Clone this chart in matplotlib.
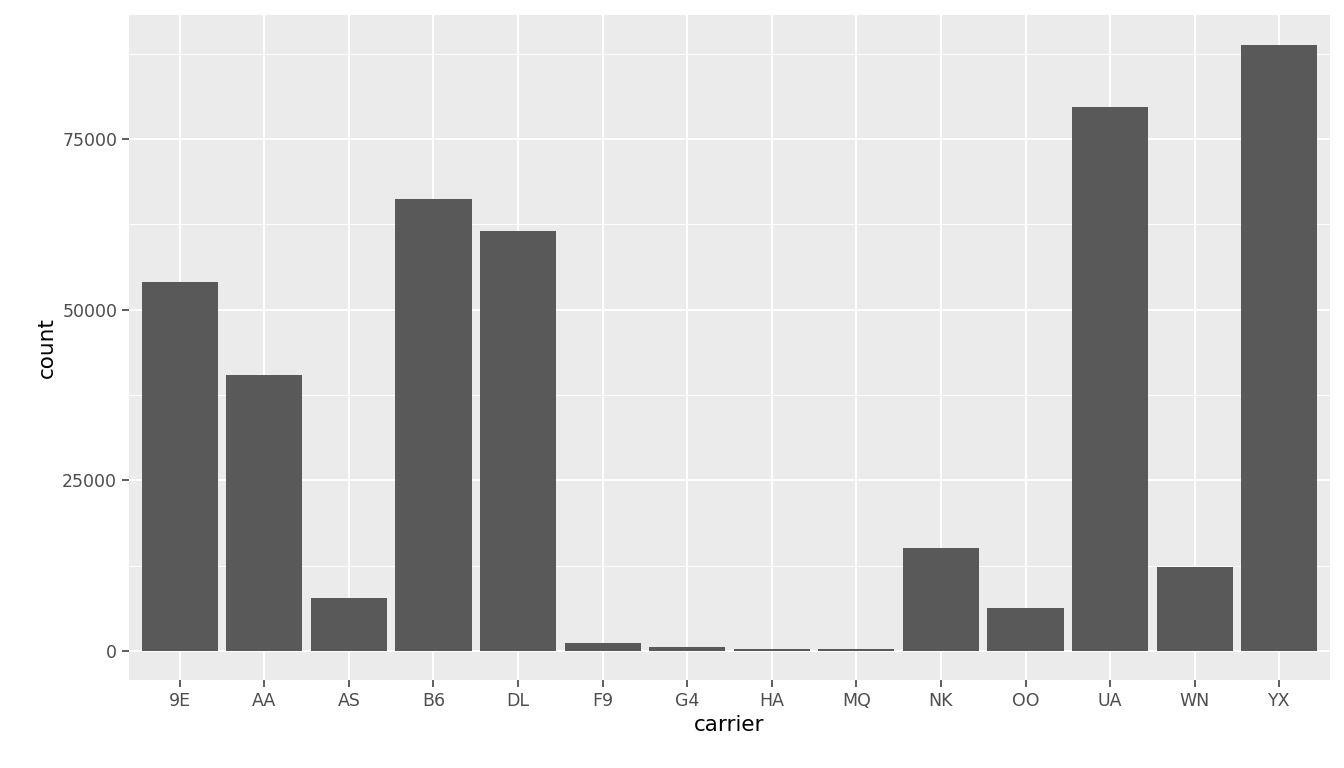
import matplotlib
matplotlib.use("Agg")
import matplotlib.pyplot as plt
from matplotlib.ticker import MultipleLocator

carriers = ["9E","AA","AS","B6","DL","F9","G4","HA","MQ","NK","OO","UA","WN","YX"]
counts = [54100, 40400, 7750, 66200, 61500, 1170, 600, 300, 350, 15100, 6300, 79700, 12300, 88800]

fig = plt.figure(figsize=(13.44, 7.68), dpi=100)
ax = fig.add_axes([129/1344, 88/768, (1330-129)/1344, (680-15)/768])
ax.set_facecolor("#EBEBEB")
x = range(len(carriers))
ax.bar(x, counts, width=0.9, color="#595959", zorder=3)
ax.set_xlim(-0.6, len(carriers) - 0.4)
ax.set_ylim(-4250, 93200)
ax.yaxis.set_major_locator(MultipleLocator(25000))
ax.yaxis.set_minor_locator(MultipleLocator(12500))
ax.set_xticks(list(x))
ax.set_xticklabels(carriers)
ax.grid(which="major", color="white", linewidth=1.4, zorder=0)
ax.grid(which="minor", axis="y", color="white", linewidth=0.7, zorder=0)
for s in ax.spines.values():
    s.set_visible(False)
ax.tick_params(which="major", colors="#333333", length=5, width=1.1, labelsize=12.5, labelcolor="#4D4D4D")
ax.tick_params(which="minor", length=0)
ax.set_xlabel("carrier", fontsize=15.5)
ax.set_ylabel("count", fontsize=15.5)
fig.savefig("out.png", dpi=100)
